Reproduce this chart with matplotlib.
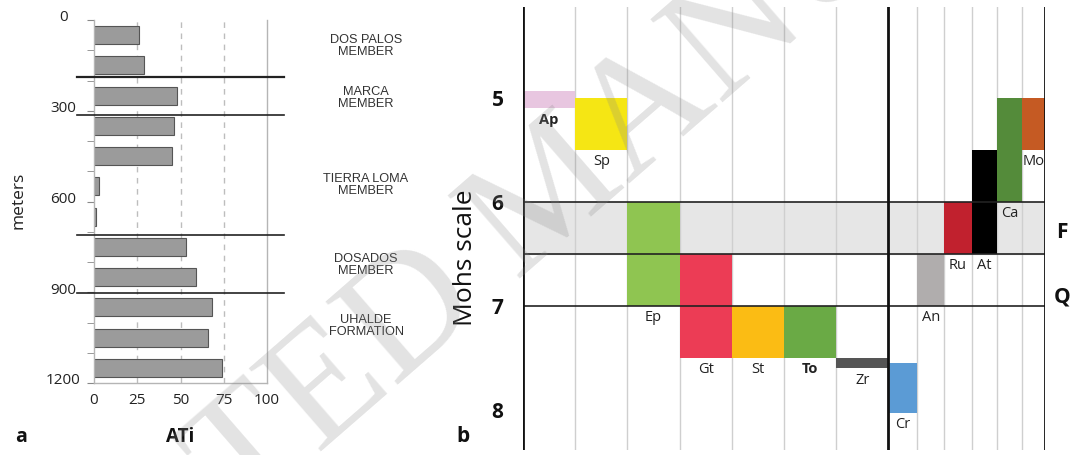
import matplotlib
matplotlib.use("Agg")
import matplotlib.pyplot as plt
from matplotlib.transforms import ScaledTranslation

plt.rcParams['font.family'] = ['Open Sans', 'DejaVu Sans']

# panel a: ATi profile along the section
depth_mid = [50, 150, 250, 350, 450, 550, 650, 750, 850, 950, 1050, 1150]
ati = [26, 29, 48, 46, 45, 2.7, 1.2, 53, 59, 68, 66, 74]
unit_bounds = [190, 314, 710, 904]
unit_names = ["DOS PALOS\nMEMBER", "MARCA\nMEMBER", "TIERRA LOMA\nMEMBER",
              "DOSADOS\nMEMBER", "UHALDE\nFORMATION"]
unit_label_y = [46, 98, 185, 265, 326]  # pixel rows of the unit names

# panel b: hardness ranges of heavy minerals
minerals = ["Ap", "Sp", "Ep", "Gt", "St", "To", "Zr", "Cr", "An", "Ru", "At", "Ca", "Mo"]
hard_lo = [4.93, 5.0, 6.0, 6.5, 7.0, 7.0, 7.5, 7.55, 6.5, 6.0, 5.5, 5.0, 5.0]
hard_hi = [5.1, 5.5, 7.0, 7.5, 7.5, 7.5, 7.6, 8.03, 7.0, 6.5, 6.5, 6.0, 5.5]
colors = ["#e8c6e0", "#f5e614", "#8fc551", "#ec3c55", "#fbbc14", "#6aaa45", "#555555",
          "#5b9bd5", "#b0adad", "#c1212e", "#000000", "#548b3a", "#c55a23"]
bold_names = ["Ap", "To"]
col_edges = [0, 1, 2, 3, 4, 5, 6, 7, 7.55, 8.07, 8.6, 9.09, 9.55, 10]

W, H = 1076, 455
fig = plt.figure(figsize=(W / 100, H / 100), dpi=100)


def fx(px):
    return px / W


def fy(py):
    return 1 - py / H


# ---------- panel a ----------
ax = fig.add_axes([fx(94), fy(383), fx(267) - fx(94), fy(20) - fy(383)])
for xv in [25, 50, 75]:
    ax.axvline(xv, color="#bdbdbd", lw=1, dashes=(4, 4), zorder=0)
ax.barh(depth_mid, ati, height=60, color="#9b9b9b", edgecolor="#555555", lw=0.8, zorder=2)
ax.set_xlim(0, 100)
ax.set_ylim(1200, 0)
for i, yb in enumerate(unit_bounds):
    ax.plot([-10, 110], [yb, yb], color="#222222", lw=1.6 if i == 0 else 1.2,
            clip_on=False, zorder=3)
ax.spines["top"].set_visible(False)
for s in ["left", "right", "bottom"]:
    ax.spines[s].set_color("#b5b5b5")
    ax.spines[s].set_linewidth(1)
ax.set_xticks([0, 25, 50, 75, 100])
ax.set_yticks([0, 300, 600, 900, 1200])
ax.set_yticks(range(0, 1201, 100), minor=True)
ax.tick_params(axis="x", length=0, pad=7, labelsize=11, labelcolor="#222222")
ax.tick_params(axis="y", which="both", length=5, color="#888888", pad=17,
               labelsize=11, labelcolor="#222222")
for lab in ax.get_yticklabels():
    lab.set_ha("center")
    lab.set_transform(lab.get_transform() + ScaledTranslation(0, 3 / 72, fig.dpi_scale_trans))
fig.text(fx(18), fy(200), "meters", rotation=90, ha="center", va="center",
         fontsize=12.5, color="#222222")
fig.text(fx(180), fy(437), "ATi", ha="center", va="center", fontsize=13.5,
         fontweight="bold", color="#111111")
fig.text(fx(21), fy(437), "a", ha="center", va="center", fontsize=14,
         fontweight="bold", color="#111111")
for name, yp in zip(unit_names, unit_label_y):
    fig.text(fx(366), fy(yp), name, ha="center", va="center", fontsize=9.2,
             family=["Liberation Sans"], color="#333333", linespacing=1.1)

# ---------- panel b ----------
bx = fig.add_axes([fx(523), fy(450), fx(1045) - fx(523), fy(7) - fy(450)])
bx.set_xlim(0, 10)
bx.set_ylim(8.385, 4.125)
bx.axhspan(6.0, 6.5, color="#e6e6e6", zorder=0)
for xe in col_edges[1:-1]:
    bx.axvline(xe, color="#cfcfcf", lw=1, zorder=1)
for i, name in enumerate(minerals):
    x0, x1 = col_edges[i], col_edges[i + 1]
    bx.bar((x0 + x1) / 2, hard_hi[i] - hard_lo[i], width=x1 - x0, bottom=hard_lo[i],
           color=colors[i], lw=0, zorder=2)
    bx.annotate(name, ((x0 + x1) / 2, hard_hi[i]), xytext=(0, -3),
                textcoords="offset points", ha="center", va="top", fontsize=10.5,
                fontweight="bold" if name in bold_names else "normal",
                color="#222222", zorder=4)
for yh in [6.0, 6.5, 7.0]:
    bx.axhline(yh, color="#222222", lw=1.2, zorder=3)
for xe in [0, 7, 10]:
    bx.axvline(xe, color="#111111", lw=2, zorder=3)
for s in bx.spines.values():
    s.set_visible(False)
bx.set_xticks([])
bx.set_yticks([5, 6, 7, 8])
bx.tick_params(axis="y", length=0, pad=14, labelsize=15)
for lab in bx.get_yticklabels():
    lab.set_fontweight("bold")
    lab.set_color("#111111")
fig.text(fx(466), fy(258), "Mohs scale", rotation=90, ha="center", va="center",
         fontsize=19, color="#111111")
fig.text(fx(1062), fy(233), "F", ha="center", va="center", fontsize=15,
         fontweight="bold", color="#111111")
fig.text(fx(1062), fy(297), "Q", ha="center", va="center", fontsize=15,
         fontweight="bold", color="#111111")
fig.text(fx(463), fy(437), "b", ha="center", va="center", fontsize=15,
         fontweight="bold", color="#111111")

# watermark across both panels
fig.text(fx(555), fy(195), "ACCEPTED MANUSCRIPT", rotation=41, ha="center", va="center",
         fontsize=120, family=["Liberation Serif"], color="#888888", alpha=0.24, zorder=10)

fig.savefig("out.png", dpi=100)
